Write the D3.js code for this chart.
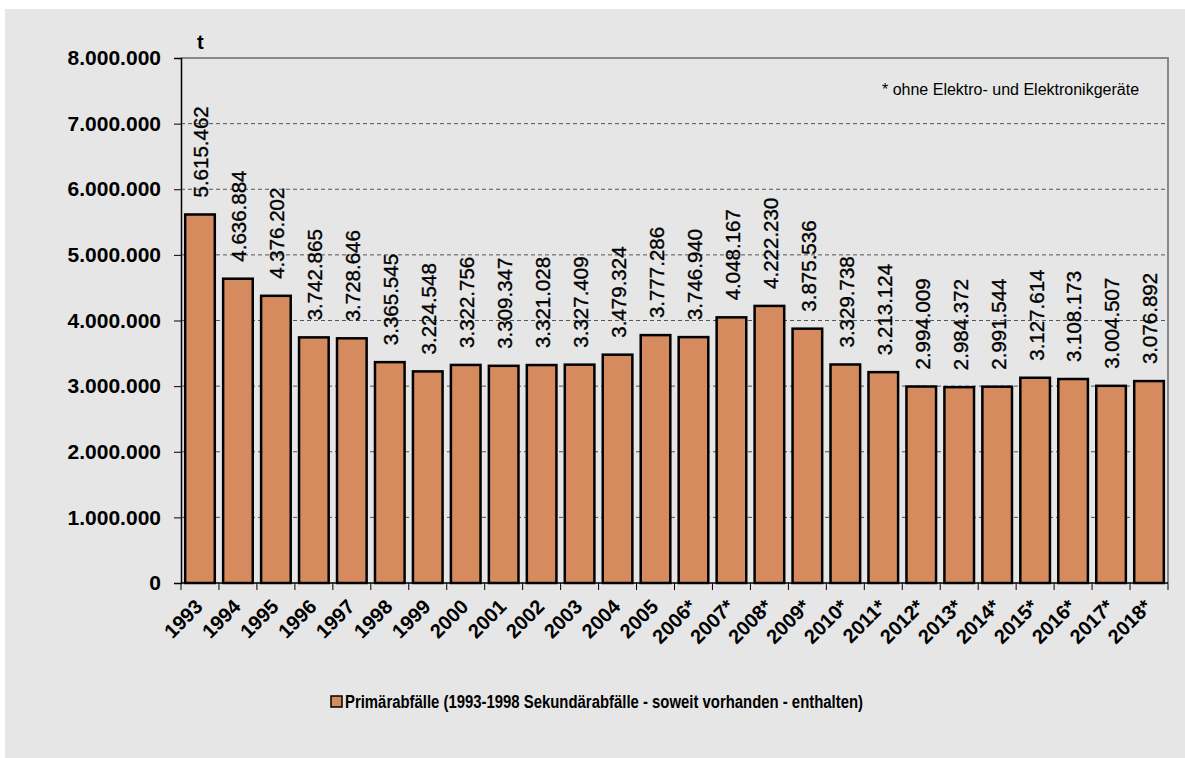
<!DOCTYPE html>
<html>
<head>
<meta charset="utf-8">
<script src="https://cdn.jsdelivr.net/npm/d3@7"></script>
<style>
  body { margin: 0; background: #fff; }
  svg { display: block; font-family: Arial, "Liberation Sans", sans-serif; }
</style>
</head>
<body>
<script>
var years = ["1993","1994","1995","1996","1997","1998","1999","2000","2001","2002","2003","2004","2005",
    "2006*","2007*","2008*","2009*","2010*","2011*","2012*","2013*","2014*","2015*","2016*","2017*","2018*"];
var values = [5615462, 4636884, 4376202, 3742865, 3728646, 3365545, 3224548, 3322756, 3309347, 3321028,
    3327409, 3479324, 3777286, 3746940, 4048167, 4222230, 3875536, 3329738, 3213124, 2994009,
    2984372, 2991544, 3127614, 3108173, 3004507, 3076892];
var yTicks = [0, 1000000, 2000000, 3000000, 4000000, 5000000, 6000000, 7000000, 8000000];
var seriesName = "Primärabfälle (1993-1998 Sekundärabfälle - soweit vorhanden - enthalten)";
var footnote = "* ohne Elektro- und Elektronikgeräte";

var W = 1185, H = 758;
var margin = {top: 58, right: 17, bottom: 175, left: 181},
    width = W - margin.left - margin.right,
    height = H - margin.top - margin.bottom;

var fmt = function(v) { return d3.format(",")(v).replace(/,/g, "."); };

var svg = d3.select("body").append("svg")
    .attr("width", W)
    .attr("height", H);

svg.append("rect")
    .attr("x", 5).attr("y", 9)
    .attr("width", W - 5).attr("height", H - 9)
    .attr("fill", "#e6e6e6");

var g = svg.append("g")
    .attr("transform", "translate(" + margin.left + "," + margin.top + ")");

var x = d3.scaleBand()
    .domain(years)
    .range([0, width])
    .paddingInner(0.22)
    .paddingOuter(0.11);

var y = d3.scaleLinear()
    .domain([0, 8000000])
    .range([height, 0]);

// grid
g.selectAll(".grid")
    .data(yTicks.filter(function(d) { return d > 0 && d < 8000000; }))
    .enter().append("line")
    .attr("x1", 0).attr("x2", width)
    .attr("y1", function(d) { return y(d); })
    .attr("y2", function(d) { return y(d); })
    .attr("stroke", "#555")
    .attr("stroke-width", 1)
    .attr("stroke-dasharray", "4,3");

// plot frame (top / right)
g.append("path")
    .attr("d", "M0," + y(8000000) + "H" + width + "V" + height)
    .attr("fill", "none")
    .attr("stroke", "#888")
    .attr("stroke-width", 2);

// bars
g.selectAll(".bar")
    .data(values)
    .enter().append("rect")
    .attr("class", "bar")
    .attr("x", function(d, i) { return x(years[i]); })
    .attr("width", x.bandwidth())
    .attr("y", function(d) { return y(d); })
    .attr("height", function(d) { return height - y(d); })
    .attr("fill", "#d68b5f")
    .attr("stroke", "#000")
    .attr("stroke-width", 2.5);

// value labels
g.selectAll(".val")
    .data(values)
    .enter().append("text")
    .attr("transform", function(d, i) {
        return "translate(" + (x(years[i]) + x.bandwidth() / 2 + 1) + "," + (y(d) - 17) + ") rotate(-90)";
    })
    .attr("dy", "0.36em")
    .attr("font-size", 20.5)
    .attr("fill", "#000")
    .attr("stroke", "#000")
    .attr("stroke-width", 0.35)
    .text(function(d) { return fmt(d); });

// y axis
var yAxis = g.append("g")
    .call(d3.axisLeft(y).tickValues(yTicks).tickSize(7).tickPadding(13).tickFormat(fmt));
yAxis.select(".domain").attr("stroke", "#000").attr("stroke-width", 1.5);
yAxis.selectAll(".tick line").attr("stroke", "#000");
yAxis.selectAll(".tick text")
    .attr("font-size", 21)
    .attr("font-weight", "bold")
    .attr("font-family", "Arial, 'Liberation Sans', sans-serif")
    .attr("fill", "#000");

// x axis
var xa = g.append("g").attr("transform", "translate(0," + height + ")");
xa.append("line")
    .attr("x1", 0).attr("x2", width)
    .attr("stroke", "#000").attr("stroke-width", 1.5);
xa.selectAll(".xt")
    .data(d3.range(years.length + 1))
    .enter().append("line")
    .attr("x1", function(i) { return i * x.step(); })
    .attr("x2", function(i) { return i * x.step(); })
    .attr("y1", 0).attr("y2", 7)
    .attr("stroke", "#000");
xa.selectAll(".xl")
    .data(years)
    .enter().append("text")
    .attr("transform", function(d) {
        return "translate(" + (x(d) + x.bandwidth() / 2 + 4) + ",25) rotate(-45)";
    })
    .attr("text-anchor", "end")
    .attr("font-size", 20)
    .attr("font-weight", "bold")
    .text(function(d) { return d; });

// unit
g.append("text")
    .attr("x", 16).attr("y", -9)
    .attr("font-size", 20)
    .attr("font-weight", "bold")
    .text("t");

// footnote
svg.append("text")
    .attr("x", 882).attr("y", 95)
    .attr("font-size", 16)
    .text(footnote);

// legend (condensed like the original narrow font)
var lg = svg.append("g").attr("transform", "translate(331,696)");
lg.append("rect")
    .attr("width", 11).attr("height", 11)
    .attr("fill", "#d68b5f")
    .attr("stroke", "#000")
    .attr("stroke-width", 1.5);
lg.append("text")
    .attr("x", 14).attr("y", 12)
    .attr("font-size", 18)
    .attr("font-weight", "bold")
    .attr("textLength", 518)
    .attr("lengthAdjust", "spacingAndGlyphs")
    .text(seriesName);
</script>
</body>
</html>
